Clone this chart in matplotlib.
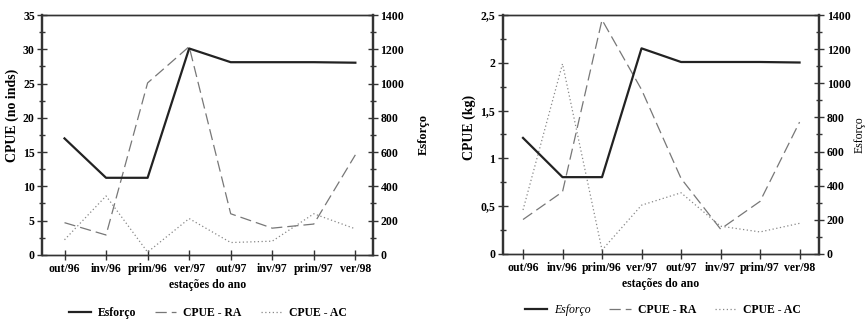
import matplotlib.pyplot as plt
from matplotlib.ticker import MultipleLocator, FuncFormatter
import numpy as np

plt.rcParams['font.family'] = 'Liberation Serif'
plt.rcParams['font.weight'] = 'bold'
plt.rcParams['axes.labelweight'] = 'bold'
plt.rcParams['font.size'] = 8.5

estacoes = ['out/96', 'inv/96', 'prim/96', 'ver/97', 'out/97', 'inv/97', 'prim/97', 'ver/98']
esforco = [680, 450, 450, 1205, 1125, 1125, 1125, 1122]

# CPUE em numero de individuos
ra_inds = [4.7, 2.9, 25.1, 30.4, 6.0, 3.9, 4.5, 14.6]
ac_inds = [2.2, 8.6, 0.4, 5.3, 1.8, 2.0, 6.0, 3.8]

# CPUE em kg
ra_kg = [0.36, 0.65, 2.45, 1.72, 0.79, 0.26, 0.55, 1.38]
ac_kg = [0.46, 1.99, 0.04, 0.51, 0.64, 0.29, 0.23, 0.32]

x = np.arange(len(estacoes))

fig = plt.figure(figsize=(8.67, 3.21), dpi=100, facecolor='white')

def comma(v, pos):
    return ('%g' % v).replace('.', ',')

def painel(pos, ra, ac, ylim, major, minor, ylabel, fmt=None, right_bold=True,
           xlim=(-0.53, 7.42), rpad=6, ylab_y=0.5):
    ax = fig.add_axes(pos)
    ax2 = ax.twinx()
    l_ra, = ax.plot(x, ra, color='#777777', lw=0.9, dashes=(9, 4), label='CPUE - RA')
    l_ac, = ax.plot(x, ac, color='#888888', lw=0.9, dashes=(1, 2), label='CPUE - AC')
    l_es, = ax2.plot(x, esforco, color='#222222', lw=1.6, label='Esforço')
    ax.set_xlim(*xlim)
    ax.set_ylim(*ylim)
    ax2.set_ylim(0, 1400)
    ax.yaxis.set_major_locator(MultipleLocator(major))
    ax.yaxis.set_minor_locator(MultipleLocator(minor))
    ax2.yaxis.set_major_locator(MultipleLocator(200))
    ax2.yaxis.set_minor_locator(MultipleLocator(100))
    if fmt is not None:
        ax.yaxis.set_major_formatter(FuncFormatter(fmt))
    ax.set_xticks(x)
    ax.set_xticklabels(estacoes)
    for a in (ax, ax2):
        a.tick_params(which='major', direction='inout', length=7, width=1, color='#333333', pad=2)
        a.tick_params(which='minor', direction='inout', length=5, width=1, color='#333333')
        for s in a.spines.values():
            s.set_color('#333333')
            s.set_linewidth(1.0)
        a.spines['left'].set_linewidth(1.6)
        a.spines['right'].set_linewidth(1.6)
    ax.set_xlabel('estações do ano', labelpad=3)
    ax.set_ylabel(ylabel, labelpad=3, fontsize=10)
    ax.yaxis.label.set_y(ylab_y)
    if right_bold:
        ax2.set_ylabel('Esforço', labelpad=rpad, fontsize=9)
    else:
        ax2.set_ylabel('Esforço', fontweight='normal', labelpad=rpad, fontsize=8.5)
    return ax, ax2, l_es, l_ra, l_ac

ax, ax2, l_es, l_ra, l_ac = painel([0.049, 0.206, 0.381, 0.747], ra_inds, ac_inds, (0, 35), 5, 2.5,
                                   'CPUE (no inds)', rpad=10, ylab_y=0.58)
fig.legend([l_es, l_ra, l_ac], ['Esforço', 'CPUE - RA', 'CPUE - AC'], loc='center',
           bbox_to_anchor=(0.240, 0.025), ncol=3, frameon=False, handlelength=1.8,
           columnspacing=1.6, handletextpad=0.6, fontsize=8.5)

bx, bx2, m_es, m_ra, m_ac = painel([0.580, 0.209, 0.365, 0.744], ra_kg, ac_kg, (0, 2.5), 0.5, 0.25,
                                   'CPUE (kg)', fmt=comma, right_bold=False, xlim=(-0.51, 7.5),
                                   rpad=2, ylab_y=0.53)
leg = fig.legend([m_es, m_ra, m_ac], ['Esforço', 'CPUE - RA', 'CPUE - AC'], loc='center',
                 bbox_to_anchor=(0.765, 0.034), ncol=3, frameon=False, handlelength=1.8,
                 columnspacing=1.6, handletextpad=0.6, fontsize=8.5)
leg.get_texts()[0].set_fontstyle('italic')
leg.get_texts()[0].set_fontweight('normal')

fig.savefig('out.png', dpi=100, facecolor='white')
